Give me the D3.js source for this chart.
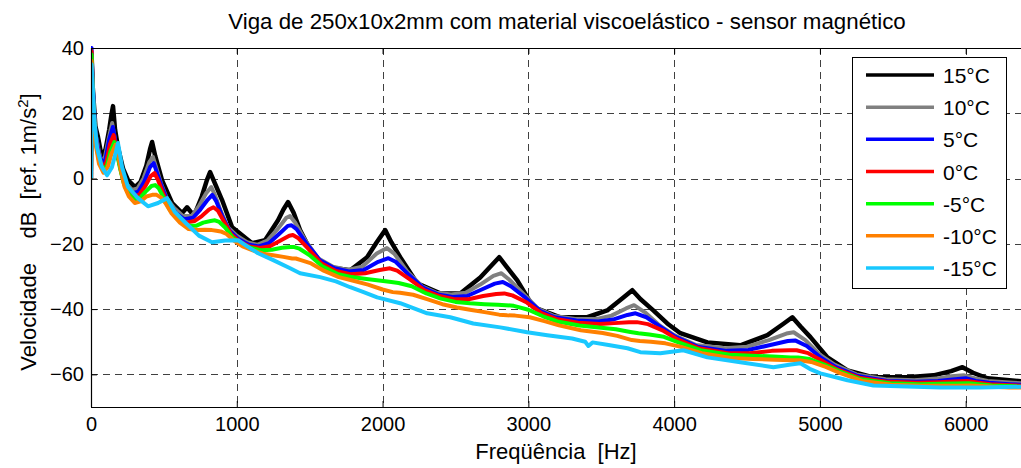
<!DOCTYPE html>
<html><head><meta charset="utf-8">
<script src="https://cdn.jsdelivr.net/npm/d3@7"></script>
<style>body{margin:0;background:#fff}svg{display:block}text{font-family:"Liberation Sans",Arial,sans-serif;white-space:pre}</style>
</head><body>
<svg id="chart" width="1021" height="468"></svg>
<script>
const title = "Viga de 250x10x2mm com material viscoelástico - sensor magnético";
const xLabel = "Freqüência  [Hz]";
const xTicks = [0,1000,2000,3000,4000,5000,6000];
const yTicks = [-60,-40,-20,0,20,40];
const seriesNames = ["15°C","10°C","5°C","0°C","-5°C","-10°C","-15°C"];
const seriesColors = ["#000000","#808080","#0000ff","#ff0000","#00ff00","#ff8000","#19c8ff"];

// [frequency Hz, dB]
const s15 = [[0,0],[4,38],[12,28],[30,16],[48,12.7],[75,6.3],[100,9],[125,15],[140,19.5],[151,22.2],[165,15],[185,9.6],[220,3],[254,-0.5],[302,-2.6],[340,-1],[380,4],[405,9],[419,11.2],[440,7],[487,-0.5],[556,-7.5],[625,-10.6],[659,-8.8],[690,-10.5],[714,-10.6],[760,-5.5],[795,-0.5],[817,2],[850,-1.5],[899,-6.6],[968,-14.9],[1009,-16.4],[1105,-19.8],[1194,-18.9],[1283,-12.8],[1320,-9.5],[1352,-7.2],[1390,-10.5],[1434,-15.8],[1500,-21.5],[1572,-26],[1680,-27.5],[1778,-28.1],[1894,-24.1],[1960,-19.5],[2018,-15.8],[2060,-19.5],[2121,-24.1],[2237,-32.1],[2395,-35.2],[2533,-35.2],[2670,-30.3],[2750,-26.5],[2800,-24.1],[2850,-27],[2924,-31.2],[3034,-39.4],[3219,-42.5],[3404,-42.5],[3541,-40.4],[3650,-36.5],[3713,-34.2],[3770,-37],[3857,-40.4],[3953,-44.4],[4043,-47.4],[4228,-50.2],[4454,-51.1],[4640,-48],[4750,-44.5],[4811,-42.5],[4870,-45.5],[4935,-48.6],[5052,-54.8],[5189,-58.8],[5367,-60.9],[5600,-60.9],[5779,-60.3],[5900,-59],[5978,-57.8],[6050,-59.5],[6150,-61.2],[6400,-62.2]];
const s10 = [[0,0],[4,37],[12,27],[30,14],[55,8],[75,5],[95,6.5],[120,12],[145,17],[160,13],[185,7],[210,2],[240,-1.5],[280,-3.5],[320,-3],[360,0],[400,5],[425,6.6],[450,3],[480,-1.5],[520,-6],[570,-9],[630,-11.5],[690,-11.5],[740,-8.5],[790,-4.5],[825,-2.6],[850,-5],[890,-10],[940,-15],[1000,-17.5],[1070,-19.5],[1140,-20.3],[1210,-19],[1280,-15.5],[1340,-12],[1365,-11.5],[1400,-13.5],[1470,-19],[1560,-24.5],[1660,-27],[1760,-28],[1860,-27],[1960,-23],[2030,-21.3],[2080,-23],[2170,-28.5],[2270,-33],[2370,-35],[2470,-35.5],[2570,-35],[2670,-32.5],[2760,-29.8],[2815,-29],[2870,-31],[2970,-35.5],[3070,-40],[3170,-42],[3320,-43],[3470,-43],[3570,-42],[3670,-39.8],[3725,-38.8],[3800,-41],[3900,-45],[4000,-48],[4150,-51],[4350,-52],[4500,-51.5],[4650,-49.5],[4770,-47.5],[4820,-47.1],[4900,-49.5],[5000,-54],[5100,-57],[5250,-60],[5450,-61.5],[5650,-61.8],[5800,-61.3],[5900,-60.6],[5990,-60.3],[6060,-61.2],[6150,-62],[6300,-62.5],[6400,-62.8]];
const s5 = [[0,0],[4,40],[12,28],[30,14],[55,7.5],[80,4.5],[100,6],[125,12],[150,15.8],[165,12],[190,6],[215,1],[245,-2.5],[285,-4.5],[325,-4],[365,-1],[405,3.5],[430,4.7],[455,1.5],[490,-3],[530,-7.5],[580,-10.5],[640,-12.5],[700,-12],[750,-9.5],[800,-6.5],[832,-5],[860,-7],[900,-11.5],[950,-16],[1010,-18.5],[1080,-20.2],[1150,-20.8],[1220,-19.8],[1290,-17],[1350,-14.5],[1375,-14.3],[1410,-15.5],[1480,-20],[1570,-25],[1670,-27.5],[1770,-28.5],[1870,-28],[1970,-25.5],[2040,-24.4],[2090,-25.5],[2180,-29.5],[2280,-33.5],[2380,-35.5],[2480,-36.3],[2580,-36],[2680,-34],[2770,-32.2],[2825,-31.7],[2880,-33],[2980,-36.5],[3080,-40.5],[3180,-42.5],[3330,-43.5],[3480,-43.8],[3580,-43.2],[3680,-41.8],[3735,-41.3],[3810,-42.5],[3910,-45.5],[4010,-48.5],[4160,-51.5],[4360,-52.8],[4510,-52.5],[4660,-51],[4780,-49.8],[4830,-49.6],[4910,-51.3],[5010,-55],[5110,-57.8],[5260,-60.5],[5460,-62],[5660,-62.3],[5810,-62],[5910,-61.6],[6000,-61.2],[6070,-62],[6160,-62.6],[6300,-63],[6400,-63.2]];
const s0 = [[0,0],[4,39],[12,27],[30,13],[55,6.5],[80,3.5],[105,5],[130,10.5],[155,13.3],[170,10],[195,4.5],[220,-0.5],[250,-3.5],[290,-5.5],[330,-5],[370,-2.5],[410,0.8],[435,1.7],[460,-0.5],[495,-4.5],[535,-8.5],[590,-11.5],[650,-13.5],[710,-13],[760,-11.5],[810,-9.5],[840,-8.8],[870,-9.8],[910,-13],[960,-17],[1020,-19.3],[1090,-20.8],[1160,-21.3],[1230,-20.7],[1300,-19],[1360,-17.5],[1385,-17.3],[1420,-18.2],[1490,-21.5],[1580,-26],[1680,-28.3],[1780,-29.3],[1880,-29],[1980,-28],[2050,-27.5],[2100,-28.2],[2190,-31],[2290,-34.3],[2390,-36],[2490,-37],[2590,-37],[2690,-36],[2780,-35.4],[2835,-35.2],[2890,-35.8],[2990,-38],[3090,-41.2],[3190,-43],[3340,-44.2],[3490,-44.6],[3590,-44.3],[3690,-44],[3745,-44],[3820,-44.6],[3920,-46.5],[4020,-49.2],[4170,-52],[4370,-53.5],[4520,-53.5],[4670,-52.8],[4790,-52.6],[4840,-52.6],[4920,-53.5],[5020,-56],[5120,-58.5],[5270,-61],[5470,-62.3],[5670,-62.6],[5820,-62.4],[5920,-62.2],[6010,-62],[6080,-62.5],[6170,-63],[6300,-63.3],[6400,-63.5]];
const sM5 = [[0,0],[4,38],[12,26],[30,12],[55,5.5],[85,2.5],[110,4],[135,8.5],[160,11.2],[175,8.5],[200,3],[225,-1.5],[255,-4.5],[295,-6.5],[335,-6],[375,-4],[415,-2.3],[440,-2],[465,-3],[500,-6],[540,-9.5],[600,-12.5],[660,-14.5],[720,-14.5],[770,-13.5],[820,-13],[850,-12.8],[880,-13.3],[920,-15],[970,-18],[1030,-20],[1100,-21.3],[1170,-22],[1240,-21.8],[1310,-21.2],[1370,-21],[1395,-21],[1430,-21.5],[1500,-23.5],[1590,-27],[1690,-29.2],[1790,-30.2],[1890,-30.8],[1990,-31.3],[2060,-31.7],[2110,-32],[2200,-33],[2300,-35.2],[2400,-36.8],[2500,-37.8],[2600,-38.2],[2700,-38.5],[2790,-38.7],[2845,-38.8],[2900,-39],[3000,-40.2],[3100,-42.2],[3200,-43.8],[3350,-45],[3500,-45.7],[3600,-46.2],[3700,-47],[3755,-47.4],[3830,-47.8],[3930,-48.5],[4030,-50.2],[4180,-52.6],[4380,-54],[4530,-54.3],[4680,-54.5],[4800,-54.8],[4850,-54.8],[4930,-55.3],[5030,-57],[5130,-59],[5280,-61.5],[5480,-62.7],[5680,-63],[5830,-62.9],[5930,-62.8],[6020,-62.7],[6090,-63],[6180,-63.4],[6300,-63.6],[6400,-63.8]];
const sM10 = [[0,0],[4,36],[12,25],[30,11],[55,4.5],[85,1.8],[115,3.5],[140,7.5],[168,10.3],[185,7.5],[205,2.5],[230,-2.5],[260,-5.5],[300,-7.5],[340,-7],[380,-5.5],[420,-5],[450,-5],[480,-5.8],[510,-7.5],[550,-10.5],[610,-13.5],[670,-15.5],[730,-15.8],[780,-15.7],[830,-15.8],[860,-16],[890,-16.2],[930,-17],[980,-19],[1040,-20.8],[1110,-22],[1180,-23],[1250,-23.5],[1320,-24],[1380,-24.5],[1405,-24.5],[1440,-25],[1510,-26],[1600,-28.3],[1700,-30.2],[1800,-31.3],[1900,-32.5],[2000,-34],[2070,-34.8],[2120,-35],[2210,-35.6],[2310,-37],[2410,-38.5],[2510,-39.5],[2610,-40.3],[2710,-41],[2800,-41.7],[2855,-41.9],[2910,-42],[3010,-42.5],[3110,-43.7],[3210,-45],[3360,-46.5],[3510,-47.3],[3610,-48.2],[3710,-49.5],[3765,-49.8],[3840,-50],[3940,-50.5],[4040,-51.5],[4190,-53.5],[4390,-55],[4540,-55.3],[4690,-55.5],[4810,-55.7],[4860,-55.7],[4940,-56.2],[5040,-57.7],[5140,-59.6],[5290,-62],[5490,-63.2],[5690,-63.5],[5840,-63.5],[5940,-63.5],[6030,-63.4],[6100,-63.6],[6190,-63.8],[6300,-64],[6400,-64]];
const sM15 = [[0,0],[4,35],[12,28],[25,17],[41,9.6],[75,3.5],[110,1],[144,3.5],[170,8],[185,10.9],[200,7],[213,3.5],[254,-2.6],[322,-6],[391,-8.5],[460,-7.5],[522,-6],[576,-10.3],[645,-13.4],[740,-17.5],[830,-19.5],[920,-19],[1009,-18.9],[1080,-21],[1146,-22.9],[1250,-25],[1366,-27.5],[1434,-29],[1572,-30.2],[1680,-31.5],[1778,-33.3],[1870,-34.8],[1963,-36.4],[2121,-38.2],[2306,-41.3],[2464,-42.5],[2622,-44.4],[2807,-45.6],[2992,-47.1],[3130,-48],[3300,-49],[3390,-50],[3412,-51.3],[3440,-50.2],[3550,-51],[3680,-52],[3768,-53.2],[3905,-53.5],[4063,-52.6],[4228,-54.8],[4454,-56.3],[4681,-57.8],[4800,-57],[4866,-56.6],[4930,-58.3],[5003,-59.7],[5189,-61.8],[5367,-63.4],[5600,-63.7],[5827,-64],[6100,-64],[6400,-63.8]];
const seriesData = [s15, s10, s5, s0, sM5, sM10, sM15];

const svg = d3.select("#chart");
const L = 91, T = 48, B = 407, R = 1024;
const x = d3.scaleLinear().domain([0, 6400]).range([L, R]);
const y = d3.scaleLinear().domain([-70, 40]).range([B, T]);

// grid
const grid = svg.append("g").attr("stroke", "#404040").attr("stroke-width", 1).attr("stroke-dasharray", "7,5");
grid.selectAll(".gx").data(xTicks.filter(d => d > 0)).join("line")
  .attr("x1", d => Math.round(x(d)) + 0.5).attr("x2", d => Math.round(x(d)) + 0.5).attr("y1", T).attr("y2", B);
grid.selectAll(".gy").data(yTicks.filter(d => d > -70 && d < 40)).join("line")
  .attr("y1", d => Math.round(y(d)) + 0.5).attr("y2", d => Math.round(y(d)) + 0.5).attr("x1", L).attr("x2", R);

// series
const line = d3.line().x(d => x(d[0])).y(d => y(d[1]));
svg.append("clipPath").attr("id", "clp").append("rect").attr("x", L).attr("y", T - 2).attr("width", R - L).attr("height", B - T + 2);
svg.append("g").attr("clip-path", "url(#clp)").selectAll("path").data(seriesData).join("path")
  .attr("d", line).attr("fill", "none")
  .attr("stroke", (d, i) => seriesColors[i])
  .attr("stroke-width", (d, i) => i === 0 ? 4.5 : 4).attr("stroke-linejoin", "round");

// axes
const xAxis = svg.append("g").attr("transform", `translate(0,${B})`)
  .call(d3.axisBottom(x).tickValues(xTicks).tickSize(-6).tickPadding(10).tickFormat(d3.format("d")));
const yAxis = svg.append("g").attr("transform", `translate(${L},0)`)
  .call(d3.axisLeft(y).tickValues(yTicks).tickSize(-6).tickPadding(7));
const xTop = svg.append("g").attr("transform", `translate(0,${T})`)
  .call(d3.axisTop(x).tickValues(xTicks).tickSize(-6).tickFormat(""));
[xAxis, yAxis, xTop].forEach(g => {
  g.select(".domain").attr("stroke", "#000").attr("stroke-width", 1.2);
  g.selectAll(".tick line").attr("stroke", "#000");
  g.selectAll("text").attr("font-size", 20).attr("fill", "#000").attr("font-family", "Liberation Sans, Arial, sans-serif");
});
xTop.select(".domain").attr("d", `M${L},0.5H${R}`);
xAxis.select(".domain").attr("d", `M${L},0.5H${R}`);
yAxis.select(".domain").attr("d", `M0.5,${T}V${B}`);

// title & labels
svg.append("text").attr("x", 567).attr("y", 29).attr("text-anchor", "middle").attr("font-size", 22.3).text(title);
svg.append("text").attr("x", 556).attr("y", 459).attr("text-anchor", "middle").attr("font-size", 22).text(xLabel);
const yl = svg.append("text").attr("transform", "translate(36,232) rotate(-90)").attr("text-anchor", "middle").attr("font-size", 22);
yl.append("tspan").text("Velocidade    dB  [ref. 1m/s");
yl.append("tspan").attr("baseline-shift", "super").attr("font-size", 15).text("2");
yl.append("tspan").text("]");

// legend
const lg = svg.append("g");
lg.append("rect").attr("x", 852.5).attr("y", 57.5).attr("width", 154).attr("height", 231).attr("fill", "#fff").attr("stroke", "#000").attr("stroke-width", 1);
const ly = d3.scalePoint().domain(seriesNames).range([75, 268]);
const items = lg.selectAll(".it").data(seriesNames).join("g").attr("transform", d => `translate(0,${ly(d)})`);
items.append("line").attr("x1", 866).attr("x2", 934).attr("stroke", (d, i) => seriesColors[i]).attr("stroke-width", 3.5);
items.append("text").attr("x", 943).attr("y", 8).attr("font-size", 21).text(d => d);
</script>
</body></html>
